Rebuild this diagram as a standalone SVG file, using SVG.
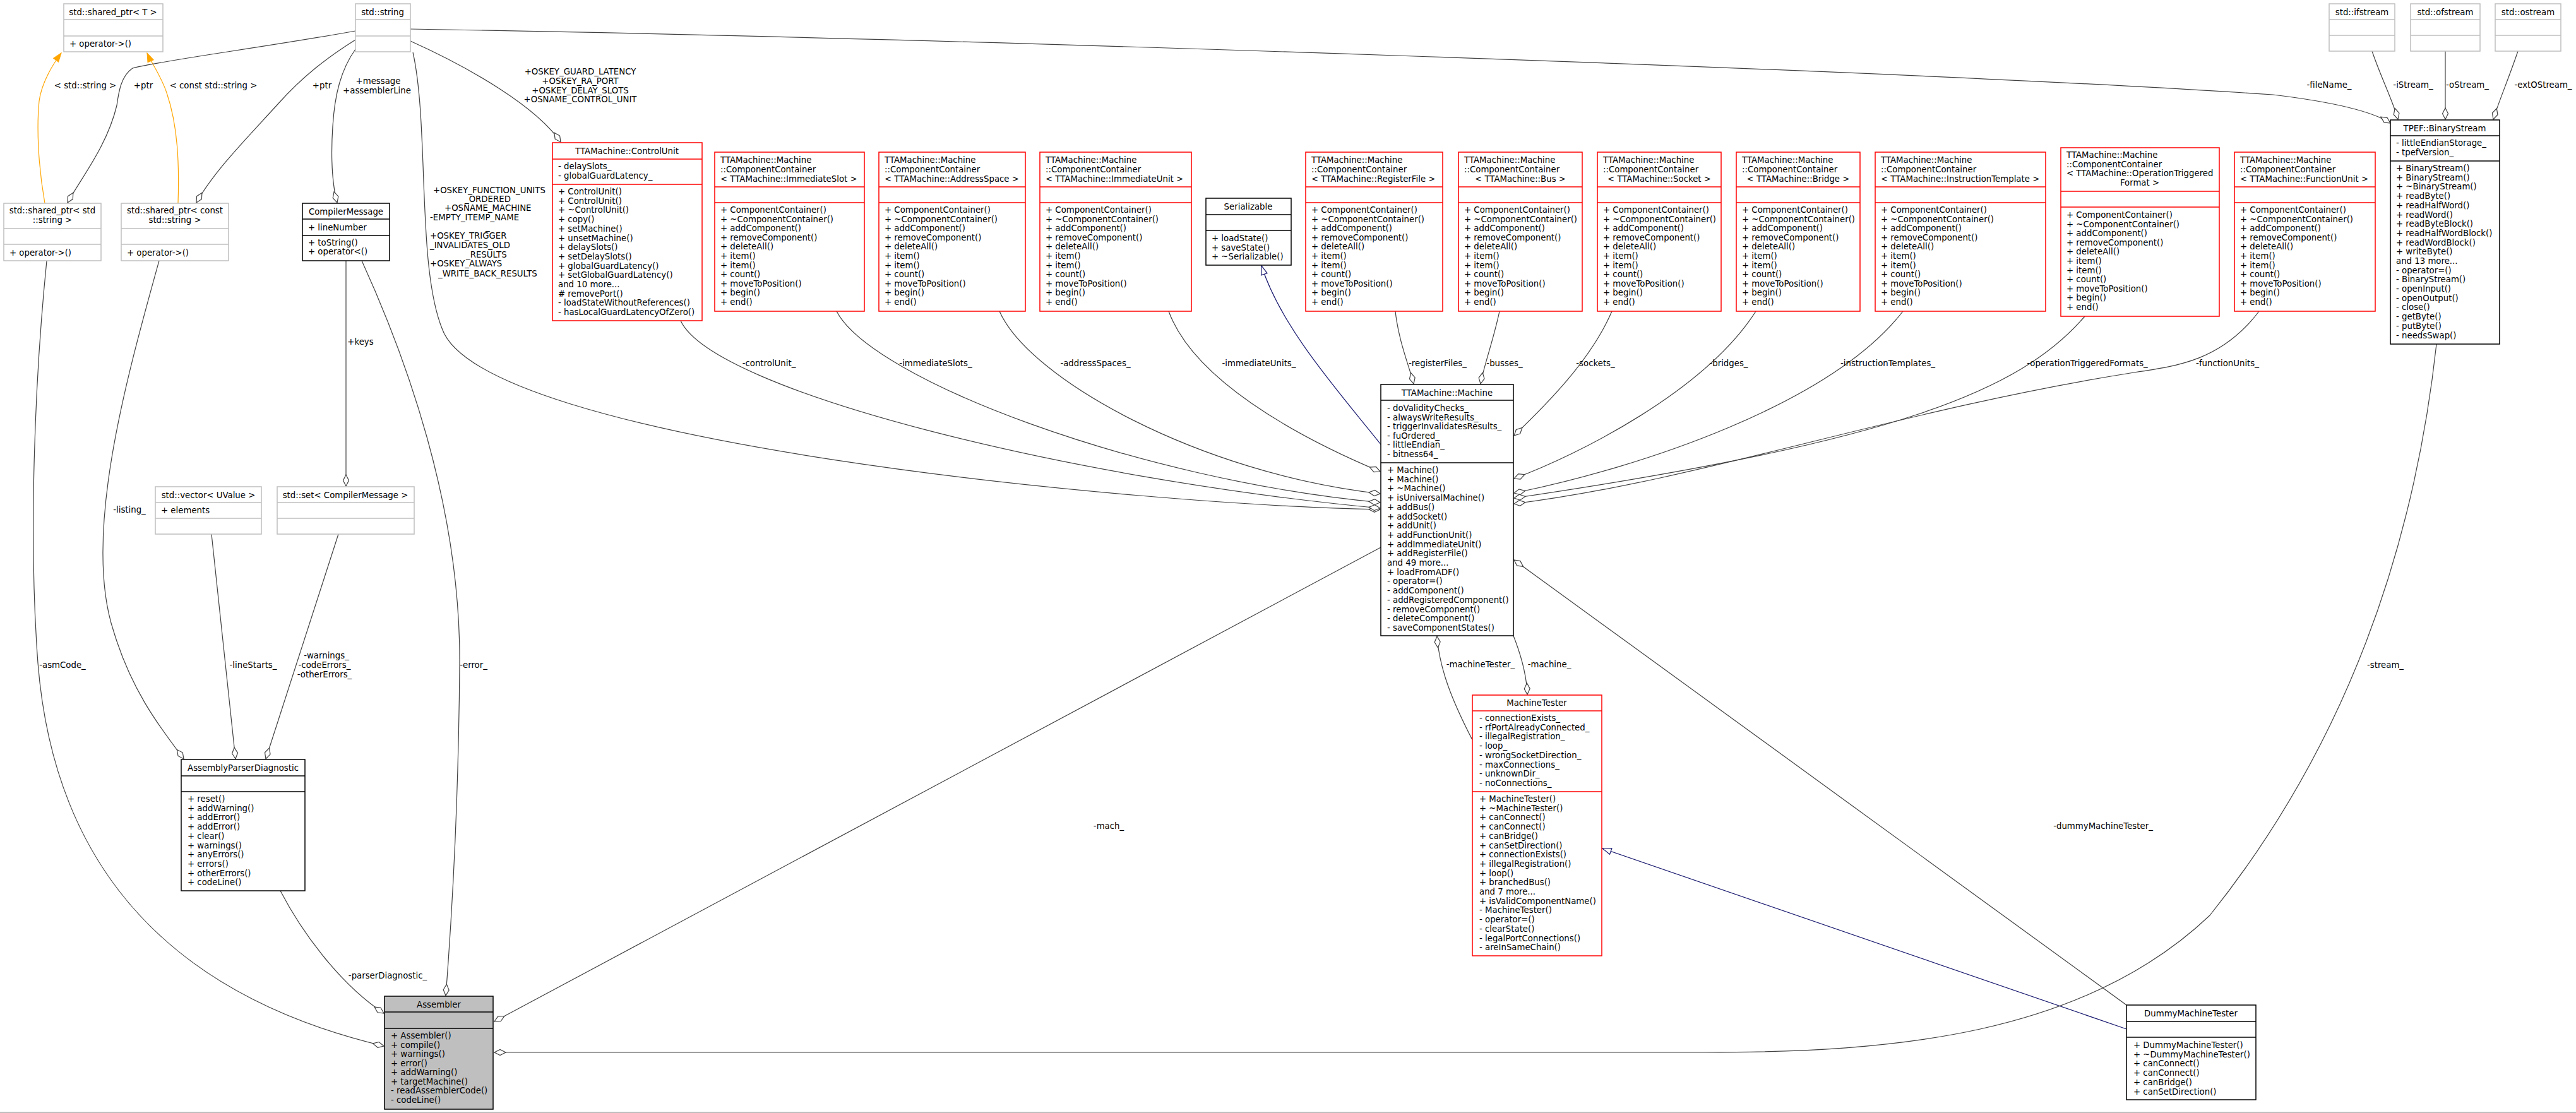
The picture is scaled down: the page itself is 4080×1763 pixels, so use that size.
<svg xmlns="http://www.w3.org/2000/svg" width="4080" height="1763" viewBox="0 0 4080 1763">
<style>
text{font-family:"DejaVu Sans","Liberation Sans",sans-serif;font-size:13.3px;fill:#000}
.c{text-anchor:middle}
.g{fill:#fff;stroke:#bfbfbf;stroke-width:1.5}
.gl{stroke:#bfbfbf;stroke-width:1.5}
.k{fill:#fff;stroke:#000;stroke-width:1.5}
.kl{stroke:#000;stroke-width:1.5}
.r{fill:#fff;stroke:#ff0000;stroke-width:1.5}
.rl{stroke:#ff0000;stroke-width:1.5}
.a{fill:#bfbfbf;stroke:#000;stroke-width:1.5}
.e{fill:none;stroke:#404040;stroke-width:1.2;marker-end:url(#dia)}
.o{fill:none;stroke:#ffa500;stroke-width:1.2;marker-end:url(#tri_o)}
.b{fill:none;stroke:#191970;stroke-width:1.2;marker-end:url(#tri_b)}
</style>
<defs>
<marker id="dia" markerUnits="userSpaceOnUse" viewBox="-20 -6 22 12" refX="0" refY="0" markerWidth="22" markerHeight="12" orient="auto"><path d="M0,0 L-9,-4.5 L-18,0 L-9,4.5 z" fill="#fff" stroke="#404040" stroke-width="1.2"/></marker>
<marker id="tri_o" markerUnits="userSpaceOnUse" viewBox="-16 -7 18 14" refX="0" refY="0" markerWidth="18" markerHeight="14" orient="auto"><path d="M0,0 L-14,-5 L-14,5 z" fill="#ffa500" stroke="#ffa500"/></marker>
<marker id="tri_b" markerUnits="userSpaceOnUse" viewBox="-16 -7 18 14" refX="0" refY="0" markerWidth="18" markerHeight="14" orient="auto"><path d="M0,0 L-14,-5 L-14,5 z" fill="#fff" stroke="#191970" stroke-width="1.2"/></marker>
</defs>
<rect width="4080" height="1763" fill="#fff"/>
<line x1="0" y1="1762" x2="4080" y2="1762" stroke="#aaa" stroke-width="1.5"/>

<g id="edges">
<path class="o" d="M71,322 C60,260 58,200 62,160 C66,130 85,100 97,84"/>
<path class="o" d="M282,322 C284,260 282,200 264,147 C255,120 240,100 233,84"/>
<path class="e" d="M563,49 C420,75 260,95 210,108 C192,120 188,145 185,167 C170,230 130,280 107,321"/>
<path class="e" d="M563,63 C520,90 480,120 440,165 C390,220 340,270 311,321"/>
<path class="e" d="M563,78 C540,110 530,150 527,200 C523,260 528,300 534,321"/>
<path class="e" d="M654,83 C680,200 660,420 700,520 C760,700 1800,800 2186,807"/>
<path class="e" d="M650,65 C750,110 850,170 888,225"/>
<path class="e" d="M650,46 C1500,60 3000,110 3600,150 C3700,162 3760,178 3786,195"/>
<path class="e" d="M3757,81 C3770,120 3790,160 3798,189"/>
<path class="e" d="M3873,81 L3873,189"/>
<path class="e" d="M3988,81 C3975,120 3958,160 3949,189"/>
<path class="e" d="M1078,508 C1130,620 1700,760 2186,805"/>
<path class="e" d="M1325,493 C1380,600 1800,760 2186,796"/>
<path class="e" d="M1583,493 C1630,600 1900,750 2186,782"/>
<path class="e" d="M1851,493 C1890,600 2050,690 2186,747"/>
<path class="b" d="M2187,704 C2120,620 2030,520 1998,421"/>
<path class="e" d="M2210,493 C2215,540 2232,580 2239,608"/>
<path class="e" d="M2375,493 C2365,540 2350,580 2345,608"/>
<path class="e" d="M2553,493 C2520,570 2450,640 2398,690"/>
<path class="e" d="M2781,493 C2700,620 2500,720 2398,758"/>
<path class="e" d="M3014,493 C2900,640 2600,740 2398,781"/>
<path class="e" d="M3302,501 C3200,620 3000,700 2398,789"/>
<path class="e" d="M3578,493 C3520,570 3450,580 3380,590 C3000,650 2700,760 2398,798"/>
<path class="e" d="M2397,1007 C2410,1040 2418,1070 2419,1100"/>
<path class="e" d="M2332,1172 C2300,1110 2280,1060 2276,1008"/>
<path class="b" d="M3368,1630 L2538,1344"/>
<path class="e" d="M3368,1592 L2398,887"/>
<path class="e" d="M2187,867 L783,1618"/>
<path class="e" d="M3859,545 C3820,900 3700,1200 3500,1450 C3300,1640 3000,1667 2700,1667 L783,1667"/>
<path class="e" d="M74,413 C55,600 45,850 60,1050 C80,1300 200,1560 608,1657"/>
<path class="e" d="M252,413 C200,600 130,850 180,1000 C210,1100 260,1160 291,1202"/>
<path class="e" d="M335,846 L373,1202"/>
<path class="e" d="M536,846 L421,1202"/>
<path class="e" d="M548,413 L548,770"/>
<path class="e" d="M573,413 C640,560 730,800 728,1053 C726,1300 712,1500 706,1577"/>
<path class="e" d="M444,1411 C480,1480 540,1560 608,1605"/>
</g>

<g id="labels">
<text class="c" x="135" y="140">&lt; std::string &gt;</text>
<text class="c" x="227" y="140">+ptr</text>
<text class="c" x="338" y="140">&lt; const std::string &gt;</text>
<text class="c" x="510" y="140">+ptr</text>
<text class="c" x="599" y="133">+message</text>
<text class="c" x="597" y="148">+assemblerLine</text>
<text x="686" y="306">+OSKEY_FUNCTION_UNITS</text>
<text x="736" y="320">_ORDERED</text>
<text x="704" y="334">+OSNAME_MACHINE</text>
<text x="681" y="349">-EMPTY_ITEMP_NAME</text>
<text x="769" y="364">_</text>
<text x="681" y="378">+OSKEY_TRIGGER</text>
<text x="681" y="393">_INVALIDATES_OLD</text>
<text x="738" y="408">_RESULTS</text>
<text x="681" y="422">+OSKEY_ALWAYS</text>
<text x="694" y="438">_WRITE_BACK_RESULTS</text>
<text class="c" x="919" y="118">+OSKEY_GUARD_LATENCY</text>
<text class="c" x="919" y="133">+OSKEY_RA_PORT</text>
<text class="c" x="919" y="148">+OSKEY_DELAY_SLOTS</text>
<text class="c" x="919" y="162">+OSNAME_CONTROL_UNIT</text>
<text class="c" x="3689" y="139">-fileName_</text>
<text class="c" x="3822" y="139">-iStream_</text>
<text class="c" x="3908" y="139">-oStream_</text>
<text class="c" x="4028" y="139">-extOStream_</text>
<text class="c" x="571" y="546">+keys</text>
<text class="c" x="205" y="812">-listing_</text>
<text class="c" x="401" y="1058">-lineStarts_</text>
<text class="c" x="517" y="1043">-warnings_</text>
<text class="c" x="514" y="1058">-codeErrors_</text>
<text class="c" x="514" y="1073">-otherErrors_</text>
<text class="c" x="750" y="1058">-error_</text>
<text class="c" x="99" y="1058">-asmCode_</text>
<text class="c" x="614" y="1550">-parserDiagnostic_</text>
<text class="c" x="1756" y="1313">-mach_</text>
<text class="c" x="3331" y="1313">-dummyMachineTester_</text>
<text class="c" x="3778" y="1058">-stream_</text>
<text class="c" x="2345" y="1057">-machineTester_</text>
<text class="c" x="2454" y="1057">-machine_</text>
<text class="c" x="1218" y="580">-controlUnit_</text>
<text class="c" x="1482" y="580">-immediateSlots_</text>
<text class="c" x="1735" y="580">-addressSpaces_</text>
<text class="c" x="1994" y="580">-immediateUnits_</text>
<text class="c" x="2277" y="580">-registerFiles_</text>
<text class="c" x="2383" y="580">-busses_</text>
<text class="c" x="2527" y="580">-sockets_</text>
<text class="c" x="2738" y="580">-bridges_</text>
<text class="c" x="2990" y="580">-instructionTemplates_</text>
<text class="c" x="3306" y="580">-operationTriggeredFormats_</text>
<text class="c" x="3528" y="580">-functionUnits_</text>
</g>

<g id="shared_ptr_T"><rect class="g" x="101" y="6" width="157" height="76"/><line class="gl" x1="101" y1="31" x2="258" y2="31"/><line class="gl" x1="101" y1="57" x2="258" y2="57"/><text class="c" x="179" y="24">std::shared_ptr&lt; T &gt;</text><text x="110" y="74">+ operator-&gt;()</text></g>
<g id="std_string"><rect class="g" x="563" y="6" width="87" height="76"/><line class="gl" x1="563" y1="31" x2="650" y2="31"/><line class="gl" x1="563" y1="57" x2="650" y2="57"/><text class="c" x="606" y="24">std::string</text></g>
<g id="shared_ptr_string"><rect class="g" x="6" y="322" width="154" height="91"/><line class="gl" x1="6" y1="362" x2="160" y2="362"/><line class="gl" x1="6" y1="387" x2="160" y2="387"/><text class="c" x="83" y="338">std::shared_ptr&lt; std</text><text class="c" x="83" y="353">::string &gt;</text><text x="15" y="405">+ operator-&gt;()</text></g>
<g id="shared_ptr_const_string"><rect class="g" x="192" y="322" width="170" height="91"/><line class="gl" x1="192" y1="362" x2="362" y2="362"/><line class="gl" x1="192" y1="387" x2="362" y2="387"/><text class="c" x="277" y="338">std::shared_ptr&lt; const</text><text class="c" x="277" y="353">std::string &gt;</text><text x="201" y="405">+ operator-&gt;()</text></g>
<g id="CompilerMessage"><rect class="k" x="479" y="322" width="138" height="91"/><line class="kl" x1="479" y1="347" x2="617" y2="347"/><line class="kl" x1="479" y1="373" x2="617" y2="373"/><text class="c" x="548" y="340">CompilerMessage</text><text x="488" y="365">+ lineNumber</text><text x="488" y="389">+ toString()</text><text x="488" y="403">+ operator&lt;()</text></g>
<g id="vector_UValue"><rect class="g" x="246" y="771" width="168" height="75"/><line class="gl" x1="246" y1="796" x2="414" y2="796"/><line class="gl" x1="246" y1="821" x2="414" y2="821"/><text class="c" x="330" y="789">std::vector&lt; UValue &gt;</text><text x="255" y="813">+ elements</text></g>
<g id="set_CompilerMessage"><rect class="g" x="439" y="771" width="217" height="75"/><line class="gl" x1="439" y1="796" x2="656" y2="796"/><line class="gl" x1="439" y1="821" x2="656" y2="821"/><text class="c" x="547" y="789">std::set&lt; CompilerMessage &gt;</text></g>

<g id="ControlUnit"><rect class="r" x="875" y="226" width="237" height="282"/><line class="rl" x1="875" y1="252" x2="1112" y2="252"/><line class="rl" x1="875" y1="292" x2="1112" y2="292"/><text class="c" x="993" y="244">TTAMachine::ControlUnit</text>
<text x="884" y="268">- delaySlots_<tspan x="884" dy="15">- globalGuardLatency_</tspan></text>
<text x="884" y="308">+ ControlUnit()<tspan x="884" dy="14.7">+ ControlUnit()</tspan><tspan x="884" dy="14.7">+ ~ControlUnit()</tspan><tspan x="884" dy="14.7">+ copy()</tspan><tspan x="884" dy="14.7">+ setMachine()</tspan><tspan x="884" dy="14.7">+ unsetMachine()</tspan><tspan x="884" dy="14.7">+ delaySlots()</tspan><tspan x="884" dy="14.7">+ setDelaySlots()</tspan><tspan x="884" dy="14.7">+ globalGuardLatency()</tspan><tspan x="884" dy="14.7">+ setGlobalGuardLatency()</tspan><tspan x="884" dy="14.7">and 10 more...</tspan><tspan x="884" dy="14.7"># removePort()</tspan><tspan x="884" dy="14.7">- loadStateWithoutReferences()</tspan><tspan x="884" dy="14.7">- hasLocalGuardLatencyOfZero()</tspan></text></g>

<g id="CC_ImmediateSlot"><rect class="r" x="1132" y="241" width="237" height="252"/><line class="rl" x1="1132" y1="296" x2="1369" y2="296"/><line class="rl" x1="1132" y1="321" x2="1369" y2="321"/><text x="1141" y="258">TTAMachine::Machine<tspan x="1141" dy="15">::ComponentContainer</tspan><tspan x="1141" dy="15">&lt; TTAMachine::ImmediateSlot &gt;</tspan></text>
<text x="1141" y="337">+ ComponentContainer()<tspan x="1141" dy="14.6">+ ~ComponentContainer()</tspan><tspan x="1141" dy="14.6">+ addComponent()</tspan><tspan x="1141" dy="14.6">+ removeComponent()</tspan><tspan x="1141" dy="14.6">+ deleteAll()</tspan><tspan x="1141" dy="14.6">+ item()</tspan><tspan x="1141" dy="14.6">+ item()</tspan><tspan x="1141" dy="14.6">+ count()</tspan><tspan x="1141" dy="14.6">+ moveToPosition()</tspan><tspan x="1141" dy="14.6">+ begin()</tspan><tspan x="1141" dy="14.6">+ end()</tspan></text></g>

<g id="CC_AddressSpace"><rect class="r" x="1392" y="241" width="232" height="252"/><line class="rl" x1="1392" y1="296" x2="1624" y2="296"/><line class="rl" x1="1392" y1="321" x2="1624" y2="321"/><text x="1401" y="258">TTAMachine::Machine<tspan x="1401" dy="15">::ComponentContainer</tspan><tspan x="1401" dy="15">&lt; TTAMachine::AddressSpace &gt;</tspan></text>
<text x="1401" y="337">+ ComponentContainer()<tspan x="1401" dy="14.6">+ ~ComponentContainer()</tspan><tspan x="1401" dy="14.6">+ addComponent()</tspan><tspan x="1401" dy="14.6">+ removeComponent()</tspan><tspan x="1401" dy="14.6">+ deleteAll()</tspan><tspan x="1401" dy="14.6">+ item()</tspan><tspan x="1401" dy="14.6">+ item()</tspan><tspan x="1401" dy="14.6">+ count()</tspan><tspan x="1401" dy="14.6">+ moveToPosition()</tspan><tspan x="1401" dy="14.6">+ begin()</tspan><tspan x="1401" dy="14.6">+ end()</tspan></text></g>

<g id="CC_ImmediateUnit"><rect class="r" x="1647" y="241" width="240" height="252"/><line class="rl" x1="1647" y1="296" x2="1887" y2="296"/><line class="rl" x1="1647" y1="321" x2="1887" y2="321"/><text x="1656" y="258">TTAMachine::Machine<tspan x="1656" dy="15">::ComponentContainer</tspan><tspan x="1656" dy="15">&lt; TTAMachine::ImmediateUnit &gt;</tspan></text>
<text x="1656" y="337">+ ComponentContainer()<tspan x="1656" dy="14.6">+ ~ComponentContainer()</tspan><tspan x="1656" dy="14.6">+ addComponent()</tspan><tspan x="1656" dy="14.6">+ removeComponent()</tspan><tspan x="1656" dy="14.6">+ deleteAll()</tspan><tspan x="1656" dy="14.6">+ item()</tspan><tspan x="1656" dy="14.6">+ item()</tspan><tspan x="1656" dy="14.6">+ count()</tspan><tspan x="1656" dy="14.6">+ moveToPosition()</tspan><tspan x="1656" dy="14.6">+ begin()</tspan><tspan x="1656" dy="14.6">+ end()</tspan></text></g>

<g id="Serializable"><rect class="k" x="1910" y="314" width="135" height="106"/><line class="kl" x1="1910" y1="340" x2="2045" y2="340"/><line class="kl" x1="1910" y1="365" x2="2045" y2="365"/><text class="c" x="1977" y="332">Serializable</text><text x="1919" y="382">+ loadState()<tspan x="1919" dy="14.6">+ saveState()</tspan><tspan x="1919" dy="14.6">+ ~Serializable()</tspan></text></g>

<g id="CC_RegisterFile"><rect class="r" x="2068" y="241" width="217" height="252"/><line class="rl" x1="2068" y1="296" x2="2285" y2="296"/><line class="rl" x1="2068" y1="321" x2="2285" y2="321"/><text x="2077" y="258">TTAMachine::Machine<tspan x="2077" dy="15">::ComponentContainer</tspan><tspan x="2077" dy="15">&lt; TTAMachine::RegisterFile &gt;</tspan></text>
<text x="2077" y="337">+ ComponentContainer()<tspan x="2077" dy="14.6">+ ~ComponentContainer()</tspan><tspan x="2077" dy="14.6">+ addComponent()</tspan><tspan x="2077" dy="14.6">+ removeComponent()</tspan><tspan x="2077" dy="14.6">+ deleteAll()</tspan><tspan x="2077" dy="14.6">+ item()</tspan><tspan x="2077" dy="14.6">+ item()</tspan><tspan x="2077" dy="14.6">+ count()</tspan><tspan x="2077" dy="14.6">+ moveToPosition()</tspan><tspan x="2077" dy="14.6">+ begin()</tspan><tspan x="2077" dy="14.6">+ end()</tspan></text></g>

<g id="CC_Bus"><rect class="r" x="2310" y="241" width="196" height="252"/><line class="rl" x1="2310" y1="296" x2="2506" y2="296"/><line class="rl" x1="2310" y1="321" x2="2506" y2="321"/><text x="2319" y="258">TTAMachine::Machine<tspan x="2319" dy="15">::ComponentContainer</tspan></text><text class="c" x="2408" y="288">&lt; TTAMachine::Bus &gt;</text>
<text x="2319" y="337">+ ComponentContainer()<tspan x="2319" dy="14.6">+ ~ComponentContainer()</tspan><tspan x="2319" dy="14.6">+ addComponent()</tspan><tspan x="2319" dy="14.6">+ removeComponent()</tspan><tspan x="2319" dy="14.6">+ deleteAll()</tspan><tspan x="2319" dy="14.6">+ item()</tspan><tspan x="2319" dy="14.6">+ item()</tspan><tspan x="2319" dy="14.6">+ count()</tspan><tspan x="2319" dy="14.6">+ moveToPosition()</tspan><tspan x="2319" dy="14.6">+ begin()</tspan><tspan x="2319" dy="14.6">+ end()</tspan></text></g>

<g id="CC_Socket"><rect class="r" x="2530" y="241" width="196" height="252"/><line class="rl" x1="2530" y1="296" x2="2726" y2="296"/><line class="rl" x1="2530" y1="321" x2="2726" y2="321"/><text x="2539" y="258">TTAMachine::Machine<tspan x="2539" dy="15">::ComponentContainer</tspan></text><text class="c" x="2628" y="288">&lt; TTAMachine::Socket &gt;</text>
<text x="2539" y="337">+ ComponentContainer()<tspan x="2539" dy="14.6">+ ~ComponentContainer()</tspan><tspan x="2539" dy="14.6">+ addComponent()</tspan><tspan x="2539" dy="14.6">+ removeComponent()</tspan><tspan x="2539" dy="14.6">+ deleteAll()</tspan><tspan x="2539" dy="14.6">+ item()</tspan><tspan x="2539" dy="14.6">+ item()</tspan><tspan x="2539" dy="14.6">+ count()</tspan><tspan x="2539" dy="14.6">+ moveToPosition()</tspan><tspan x="2539" dy="14.6">+ begin()</tspan><tspan x="2539" dy="14.6">+ end()</tspan></text></g>

<g id="CC_Bridge"><rect class="r" x="2750" y="241" width="196" height="252"/><line class="rl" x1="2750" y1="296" x2="2946" y2="296"/><line class="rl" x1="2750" y1="321" x2="2946" y2="321"/><text x="2759" y="258">TTAMachine::Machine<tspan x="2759" dy="15">::ComponentContainer</tspan></text><text class="c" x="2848" y="288">&lt; TTAMachine::Bridge &gt;</text>
<text x="2759" y="337">+ ComponentContainer()<tspan x="2759" dy="14.6">+ ~ComponentContainer()</tspan><tspan x="2759" dy="14.6">+ addComponent()</tspan><tspan x="2759" dy="14.6">+ removeComponent()</tspan><tspan x="2759" dy="14.6">+ deleteAll()</tspan><tspan x="2759" dy="14.6">+ item()</tspan><tspan x="2759" dy="14.6">+ item()</tspan><tspan x="2759" dy="14.6">+ count()</tspan><tspan x="2759" dy="14.6">+ moveToPosition()</tspan><tspan x="2759" dy="14.6">+ begin()</tspan><tspan x="2759" dy="14.6">+ end()</tspan></text></g>

<g id="CC_InstructionTemplate"><rect class="r" x="2970" y="241" width="270" height="252"/><line class="rl" x1="2970" y1="296" x2="3240" y2="296"/><line class="rl" x1="2970" y1="321" x2="3240" y2="321"/><text x="2979" y="258">TTAMachine::Machine<tspan x="2979" dy="15">::ComponentContainer</tspan><tspan x="2979" dy="15">&lt; TTAMachine::InstructionTemplate &gt;</tspan></text>
<text x="2979" y="337">+ ComponentContainer()<tspan x="2979" dy="14.6">+ ~ComponentContainer()</tspan><tspan x="2979" dy="14.6">+ addComponent()</tspan><tspan x="2979" dy="14.6">+ removeComponent()</tspan><tspan x="2979" dy="14.6">+ deleteAll()</tspan><tspan x="2979" dy="14.6">+ item()</tspan><tspan x="2979" dy="14.6">+ item()</tspan><tspan x="2979" dy="14.6">+ count()</tspan><tspan x="2979" dy="14.6">+ moveToPosition()</tspan><tspan x="2979" dy="14.6">+ begin()</tspan><tspan x="2979" dy="14.6">+ end()</tspan></text></g>

<g id="CC_OperationTriggeredFormat"><rect class="r" x="3264" y="234" width="251" height="267"/><line class="rl" x1="3264" y1="303" x2="3515" y2="303"/><line class="rl" x1="3264" y1="328" x2="3515" y2="328"/><text x="3273" y="250">TTAMachine::Machine<tspan x="3273" dy="14.7">::ComponentContainer</tspan><tspan x="3273" dy="14.7">&lt; TTAMachine::OperationTriggered</tspan></text><text class="c" x="3389" y="294">Format &gt;</text>
<text x="3273" y="345">+ ComponentContainer()<tspan x="3273" dy="14.6">+ ~ComponentContainer()</tspan><tspan x="3273" dy="14.6">+ addComponent()</tspan><tspan x="3273" dy="14.6">+ removeComponent()</tspan><tspan x="3273" dy="14.6">+ deleteAll()</tspan><tspan x="3273" dy="14.6">+ item()</tspan><tspan x="3273" dy="14.6">+ item()</tspan><tspan x="3273" dy="14.6">+ count()</tspan><tspan x="3273" dy="14.6">+ moveToPosition()</tspan><tspan x="3273" dy="14.6">+ begin()</tspan><tspan x="3273" dy="14.6">+ end()</tspan></text></g>

<g id="CC_FunctionUnit"><rect class="r" x="3539" y="241" width="223" height="252"/><line class="rl" x1="3539" y1="296" x2="3762" y2="296"/><line class="rl" x1="3539" y1="321" x2="3762" y2="321"/><text x="3548" y="258">TTAMachine::Machine<tspan x="3548" dy="15">::ComponentContainer</tspan><tspan x="3548" dy="15">&lt; TTAMachine::FunctionUnit &gt;</tspan></text>
<text x="3548" y="337">+ ComponentContainer()<tspan x="3548" dy="14.6">+ ~ComponentContainer()</tspan><tspan x="3548" dy="14.6">+ addComponent()</tspan><tspan x="3548" dy="14.6">+ removeComponent()</tspan><tspan x="3548" dy="14.6">+ deleteAll()</tspan><tspan x="3548" dy="14.6">+ item()</tspan><tspan x="3548" dy="14.6">+ item()</tspan><tspan x="3548" dy="14.6">+ count()</tspan><tspan x="3548" dy="14.6">+ moveToPosition()</tspan><tspan x="3548" dy="14.6">+ begin()</tspan><tspan x="3548" dy="14.6">+ end()</tspan></text></g>

<g id="std_ifstream"><rect class="g" x="3689" y="6" width="104" height="75"/><line class="gl" x1="3689" y1="31" x2="3793" y2="31"/><line class="gl" x1="3689" y1="56" x2="3793" y2="56"/><text class="c" x="3741" y="24">std::ifstream</text></g>
<g id="std_ofstream"><rect class="g" x="3818" y="6" width="110" height="75"/><line class="gl" x1="3818" y1="31" x2="3928" y2="31"/><line class="gl" x1="3818" y1="56" x2="3928" y2="56"/><text class="c" x="3873" y="24">std::ofstream</text></g>
<g id="std_ostream"><rect class="g" x="3952" y="6" width="104" height="75"/><line class="gl" x1="3952" y1="31" x2="4056" y2="31"/><line class="gl" x1="3952" y1="56" x2="4056" y2="56"/><text class="c" x="4004" y="24">std::ostream</text></g>

<g id="BinaryStream"><rect class="k" x="3786" y="190" width="173" height="355"/><line class="kl" x1="3786" y1="215" x2="3959" y2="215"/><line class="kl" x1="3786" y1="255" x2="3959" y2="255"/><text class="c" x="3872" y="208">TPEF::BinaryStream</text><text x="3795" y="231">- littleEndianStorage_<tspan x="3795" dy="15">- tpefVersion_</tspan></text>
<text x="3795" y="271">+ BinaryStream()<tspan x="3795" dy="14.7">+ BinaryStream()</tspan><tspan x="3795" dy="14.7">+ ~BinaryStream()</tspan><tspan x="3795" dy="14.7">+ readByte()</tspan><tspan x="3795" dy="14.7">+ readHalfWord()</tspan><tspan x="3795" dy="14.7">+ readWord()</tspan><tspan x="3795" dy="14.7">+ readByteBlock()</tspan><tspan x="3795" dy="14.7">+ readHalfWordBlock()</tspan><tspan x="3795" dy="14.7">+ readWordBlock()</tspan><tspan x="3795" dy="14.7">+ writeByte()</tspan><tspan x="3795" dy="14.7">and 13 more...</tspan><tspan x="3795" dy="14.7">- operator=()</tspan><tspan x="3795" dy="14.7">- BinaryStream()</tspan><tspan x="3795" dy="14.7">- openInput()</tspan><tspan x="3795" dy="14.7">- openOutput()</tspan><tspan x="3795" dy="14.7">- close()</tspan><tspan x="3795" dy="14.7">- getByte()</tspan><tspan x="3795" dy="14.7">- putByte()</tspan><tspan x="3795" dy="14.7">- needsSwap()</tspan></text></g>

<g id="Machine"><rect class="k" x="2187" y="609" width="210" height="398"/><line class="kl" x1="2187" y1="634" x2="2397" y2="634"/><line class="kl" x1="2187" y1="733" x2="2397" y2="733"/><text class="c" x="2292" y="627">TTAMachine::Machine</text>
<text x="2197" y="651">- doValidityChecks_<tspan x="2197" dy="14.6">- alwaysWriteResults_</tspan><tspan x="2197" dy="14.6">- triggerInvalidatesResults_</tspan><tspan x="2197" dy="14.6">- fuOrdered_</tspan><tspan x="2197" dy="14.6">- littleEndian_</tspan><tspan x="2197" dy="14.6">- bitness64_</tspan></text>
<text x="2197" y="749">+ Machine()<tspan x="2197" dy="14.7">+ Machine()</tspan><tspan x="2197" dy="14.7">+ ~Machine()</tspan><tspan x="2197" dy="14.7">+ isUniversalMachine()</tspan><tspan x="2197" dy="14.7">+ addBus()</tspan><tspan x="2197" dy="14.7">+ addSocket()</tspan><tspan x="2197" dy="14.7">+ addUnit()</tspan><tspan x="2197" dy="14.7">+ addFunctionUnit()</tspan><tspan x="2197" dy="14.7">+ addImmediateUnit()</tspan><tspan x="2197" dy="14.7">+ addRegisterFile()</tspan><tspan x="2197" dy="14.7">and 49 more...</tspan><tspan x="2197" dy="14.7">+ loadFromADF()</tspan><tspan x="2197" dy="14.7">- operator=()</tspan><tspan x="2197" dy="14.7">- addComponent()</tspan><tspan x="2197" dy="14.7">- addRegisteredComponent()</tspan><tspan x="2197" dy="14.7">- removeComponent()</tspan><tspan x="2197" dy="14.7">- deleteComponent()</tspan><tspan x="2197" dy="14.7">- saveComponentStates()</tspan></text></g>

<g id="MachineTester"><rect class="r" x="2332" y="1101" width="205" height="413"/><line class="rl" x1="2332" y1="1126" x2="2537" y2="1126"/><line class="rl" x1="2332" y1="1254" x2="2537" y2="1254"/><text class="c" x="2434" y="1118">MachineTester</text>
<text x="2343" y="1142">- connectionExists_<tspan x="2343" dy="14.7">- rfPortAlreadyConnected_</tspan><tspan x="2343" dy="14.7">- illegalRegistration_</tspan><tspan x="2343" dy="14.7">- loop_</tspan><tspan x="2343" dy="14.7">- wrongSocketDirection_</tspan><tspan x="2343" dy="14.7">- maxConnections_</tspan><tspan x="2343" dy="14.7">- unknownDir_</tspan><tspan x="2343" dy="14.7">- noConnections_</tspan></text>
<text x="2343" y="1270">+ MachineTester()<tspan x="2343" dy="14.7">+ ~MachineTester()</tspan><tspan x="2343" dy="14.7">+ canConnect()</tspan><tspan x="2343" dy="14.7">+ canConnect()</tspan><tspan x="2343" dy="14.7">+ canBridge()</tspan><tspan x="2343" dy="14.7">+ canSetDirection()</tspan><tspan x="2343" dy="14.7">+ connectionExists()</tspan><tspan x="2343" dy="14.7">+ illegalRegistration()</tspan><tspan x="2343" dy="14.7">+ loop()</tspan><tspan x="2343" dy="14.7">+ branchedBus()</tspan><tspan x="2343" dy="14.7">and 7 more...</tspan><tspan x="2343" dy="14.7">+ isValidComponentName()</tspan><tspan x="2343" dy="14.7">- MachineTester()</tspan><tspan x="2343" dy="14.7">- operator=()</tspan><tspan x="2343" dy="14.7">- clearState()</tspan><tspan x="2343" dy="14.7">- legalPortConnections()</tspan><tspan x="2343" dy="14.7">- areInSameChain()</tspan></text></g>

<g id="DummyMachineTester"><rect class="k" x="3368" y="1592" width="205" height="150"/><line class="kl" x1="3368" y1="1618" x2="3573" y2="1618"/><line class="kl" x1="3368" y1="1643" x2="3573" y2="1643"/><text class="c" x="3470" y="1610">DummyMachineTester</text>
<text x="3379" y="1660">+ DummyMachineTester()<tspan x="3379" dy="14.7">+ ~DummyMachineTester()</tspan><tspan x="3379" dy="14.7">+ canConnect()</tspan><tspan x="3379" dy="14.7">+ canConnect()</tspan><tspan x="3379" dy="14.7">+ canBridge()</tspan><tspan x="3379" dy="14.7">+ canSetDirection()</tspan></text></g>

<g id="AssemblyParserDiagnostic"><rect class="k" x="287" y="1203" width="196" height="208"/><line class="kl" x1="287" y1="1229" x2="483" y2="1229"/><line class="kl" x1="287" y1="1254" x2="483" y2="1254"/><text class="c" x="385" y="1221">AssemblyParserDiagnostic</text>
<text x="297" y="1270">+ reset()<tspan x="297" dy="14.7">+ addWarning()</tspan><tspan x="297" dy="14.7">+ addError()</tspan><tspan x="297" dy="14.7">+ addError()</tspan><tspan x="297" dy="14.7">+ clear()</tspan><tspan x="297" dy="14.7">+ warnings()</tspan><tspan x="297" dy="14.7">+ anyErrors()</tspan><tspan x="297" dy="14.7">+ errors()</tspan><tspan x="297" dy="14.7">+ otherErrors()</tspan><tspan x="297" dy="14.7">+ codeLine()</tspan></text></g>

<g id="Assembler"><rect class="a" x="609" y="1578" width="172" height="179"/><line class="kl" x1="609" y1="1603" x2="781" y2="1603"/><line class="kl" x1="609" y1="1629" x2="781" y2="1629"/><text class="c" x="695" y="1596">Assembler</text>
<text x="619" y="1645">+ Assembler()<tspan x="619" dy="14.5">+ compile()</tspan><tspan x="619" dy="14.5">+ warnings()</tspan><tspan x="619" dy="14.5">+ error()</tspan><tspan x="619" dy="14.5">+ addWarning()</tspan><tspan x="619" dy="14.5">+ targetMachine()</tspan><tspan x="619" dy="14.5">- readAssemblerCode()</tspan><tspan x="619" dy="14.5">- codeLine()</tspan></text></g>
</svg>
